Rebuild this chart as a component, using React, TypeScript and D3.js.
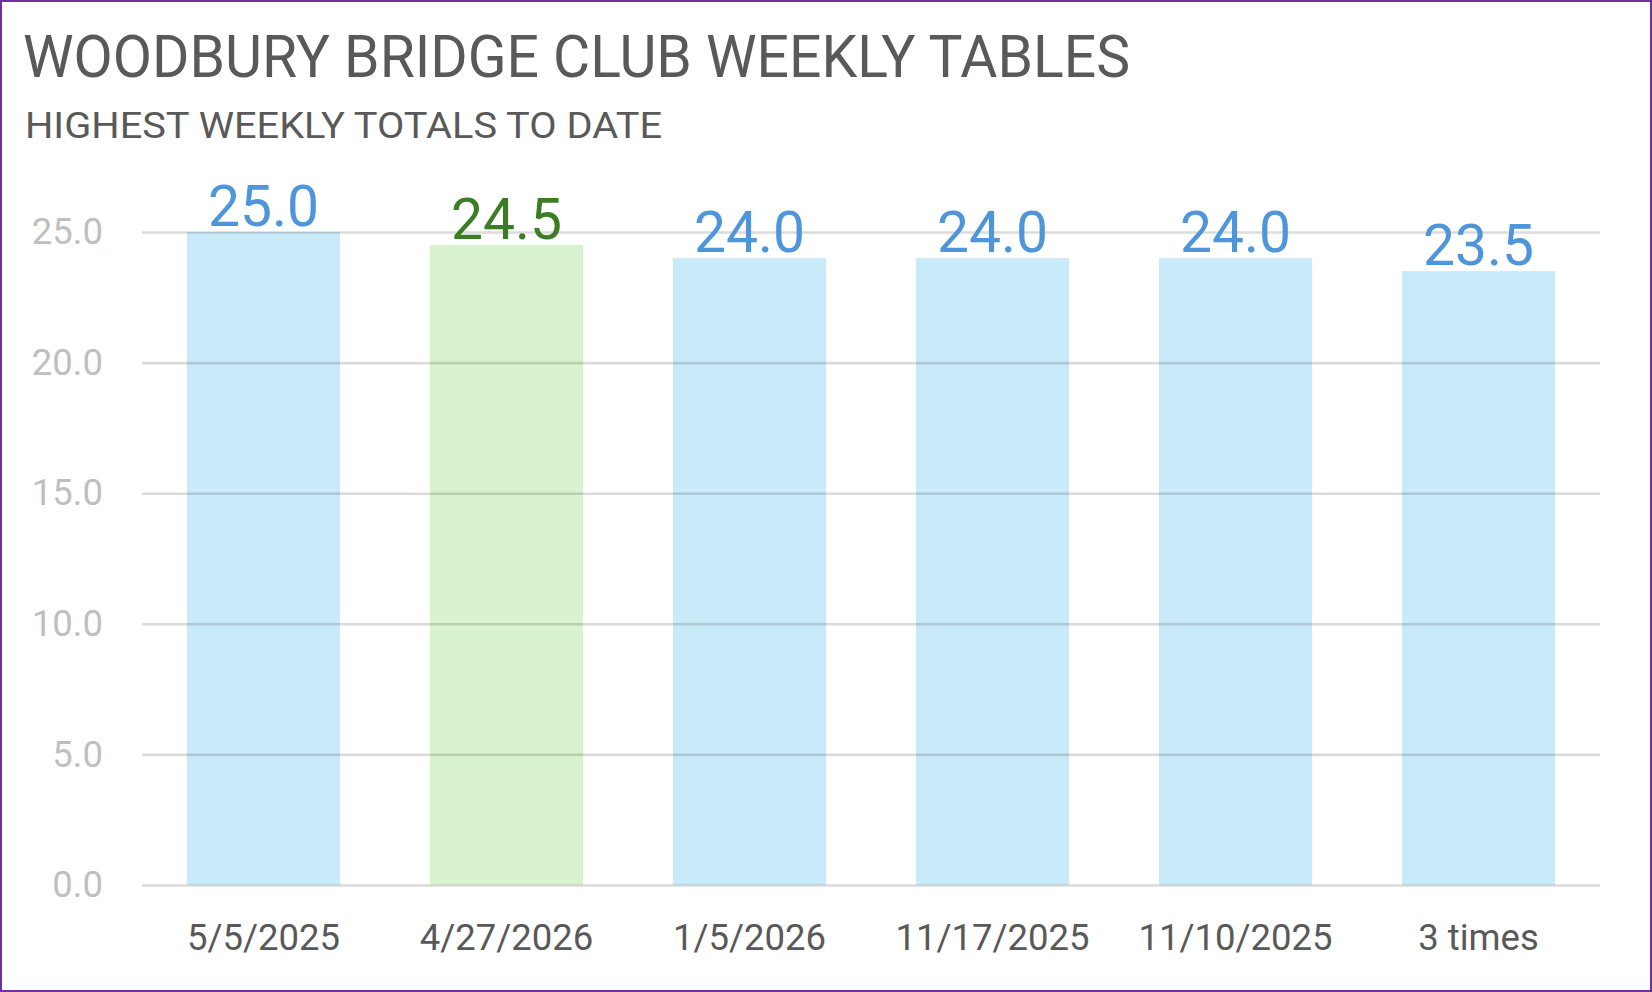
import { useEffect, useRef } from 'react';
import * as d3 from 'd3';

const weeks = ['5/5/2025', '4/27/2026', '1/5/2026', '11/17/2025', '11/10/2025', '3 times'];
const totals = [25.0, 24.5, 24.0, 24.0, 24.0, 23.5];
const latestWeek = ['4/27/2026'];
const yTicks = [0, 5, 10, 15, 20, 25];

const title = 'WOODBURY BRIDGE CLUB WEEKLY TABLES';
const subtitle = 'HIGHEST WEEKLY TOTALS TO DATE';

const WIDTH = 1652;
const HEIGHT = 992;

export default function App() {
  const svgRef = useRef<SVGSVGElement>(null);

  useEffect(() => {
    if (!svgRef.current) return;
    const margin = { top: 232, right: 52, bottom: 107, left: 142 };
    const innerWidth = WIDTH - margin.left - margin.right;
    const innerHeight = HEIGHT - margin.top - margin.bottom;
    const font = 'Roboto, "Liberation Sans", sans-serif';

    const svg = d3.select(svgRef.current);
    svg.selectAll('*').remove();

    svg
      .append('rect')
      .attr('x', 1)
      .attr('y', 1)
      .attr('width', WIDTH - 2)
      .attr('height', HEIGHT - 2)
      .attr('fill', '#fff')
      .attr('stroke', '#7030a0')
      .attr('stroke-width', 2);

    // Titles
    svg
      .append('text')
      .attr('x', 23)
      .attr('y', 77)
      .attr('font-family', font)
      .attr('font-size', 59)
      .attr('fill', '#595959')
      .attr('textLength', 1107)
      .attr('lengthAdjust', 'spacingAndGlyphs')
      .text(title);

    svg
      .append('text')
      .attr('x', 25)
      .attr('y', 138)
      .attr('font-family', font)
      .attr('font-size', 36.5)
      .attr('fill', '#595959')
      .attr('textLength', 637)
      .attr('lengthAdjust', 'spacingAndGlyphs')
      .text(subtitle);

    const x = d3
      .scaleBand<string>()
      .domain(weeks)
      .range([0, innerWidth])
      .paddingInner(0.37)
      .paddingOuter(0.185);

    const y = d3.scaleLinear().domain([0, 25]).range([innerHeight, 0]);

    const g = svg
      .append('g')
      .attr('transform', `translate(${margin.left},${margin.top})`);

    // Bars
    g.selectAll('rect.bar')
      .data(weeks)
      .join('rect')
      .attr('class', 'bar')
      .attr('x', (d) => x(d)!)
      .attr('y', (_, i) => y(totals[i]))
      .attr('width', x.bandwidth())
      .attr('height', (_, i) => innerHeight - y(totals[i]))
      .attr('fill', (d) => (latestWeek.includes(d) ? '#d9f2d0' : '#c9eaf9'));

    // Grid (drawn over the bars, translucent)
    const grid = g
      .append('g')
      .call(
        d3
          .axisLeft(y)
          .tickValues(yTicks)
          .tickSize(-innerWidth)
          .tickFormat(() => '')
      );
    grid.select('.domain').remove();
    grid
      .selectAll('line')
      .attr('stroke', '#000')
      .attr('stroke-opacity', 0.14)
      .attr('stroke-width', 2.6);

    // Y labels
    const yAxis = g
      .append('g')
      .call(
        d3
          .axisLeft(y)
          .tickValues(yTicks)
          .tickSize(0)
          .tickPadding(39)
          .tickFormat((d) => d3.format('.1f')(d as number))
      );
    yAxis.select('.domain').remove();
    yAxis
      .selectAll('text')
      .attr('font-family', font)
      .attr('font-size', 36.5)
      .attr('fill', '#bfbfbf')
      .attr('dy', '0.32em');

    // X labels
    const xAxis = g
      .append('g')
      .attr('transform', `translate(0,${innerHeight})`)
      .call(d3.axisBottom(x).tickSize(0).tickPadding(0));
    xAxis.select('.domain').remove();
    xAxis
      .selectAll('text')
      .attr('font-family', font)
      .attr('font-size', 36.5)
      .attr('fill', '#595959')
      .attr('dy', 65);

    // Value labels
    g.selectAll('text.value')
      .data(weeks)
      .join('text')
      .attr('class', 'value')
      .attr('x', (d) => x(d)! + x.bandwidth() / 2)
      .attr('y', (_, i) => y(totals[i]) - 6.5)
      .attr('text-anchor', 'middle')
      .attr('font-family', font)
      .attr('font-size', 57)
      .attr('fill', (d) => (latestWeek.includes(d) ? '#3b7d23' : '#4e95d9'))
      .text((_, i) => d3.format('.1f')(totals[i]));
  }, []);

  return (
    <>
      <style>{'body{margin:0}'}</style>
      <svg
        ref={svgRef}
        width={WIDTH}
        height={HEIGHT}
        style={{ display: 'block' }}
      />
    </>
  );
}
